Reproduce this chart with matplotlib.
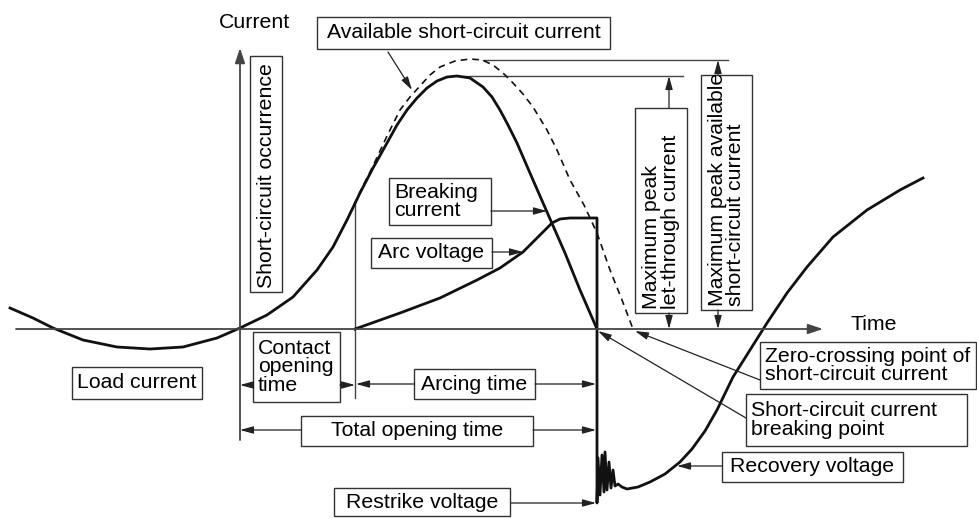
import matplotlib.pyplot as plt
from matplotlib.patches import Rectangle

plt.rcParams['font.family'] = ['Liberation Sans', 'DejaVu Sans']

# all values, in pixel units (x to the right, y downwards)

# load current that turns into the short-circuit current (solid)
current_x = [10, 33, 53, 83, 117, 150, 183, 217, 240, 267, 293, 317, 333, 347, 360,
             373, 387, 397, 407, 417, 427, 437, 447, 457, 470, 483, 492, 500, 508,
             517, 533, 547, 565, 580, 597]
current_y = [308, 318, 328, 340, 347, 349, 347, 338, 328, 315, 297, 270, 247, 220, 193,
             168, 143, 125, 110, 98, 88, 81, 77, 76, 78, 87, 97, 110, 125,
             143, 180, 212, 253, 290, 329]

# available short-circuit current (dashed)
avail_x = [333, 347, 360, 373, 387, 400, 410, 420, 430, 440, 455, 470, 482, 493, 503,
           513, 523, 533, 547, 557, 570, 584, 597, 610, 622, 633]
avail_y = [247, 220, 192, 166, 136, 110, 97, 86, 75, 67, 61, 59, 60, 65, 73,
           83, 94, 107, 130, 150, 180, 205, 233, 270, 300, 329]

# arc voltage, restrike and recovery voltage
volt_x = [355, 400, 440, 477, 500, 523, 540, 552, 560, 570, 597, 597,
          598, 600, 602, 604, 605, 607, 609, 611, 613, 615, 618, 622,
          627, 638, 650, 665, 680, 692, 705, 717, 733, 750, 767, 787, 807, 833,
          867, 900, 923]
volt_y = [329, 313, 298, 280, 268, 252, 235, 223, 219, 218, 218, 503,
          458, 495, 455, 492, 452, 490, 462, 488, 470, 486, 484, 487,
          489, 487, 482, 474, 462, 449, 431, 410, 377, 350, 323, 293, 267, 237,
          210, 190, 178]

# label texts and their boxes (x0, y0, x1, y1)
box_text = ["Available short-circuit current", "Breaking\ncurrent", "Arc voltage",
            "Contact\nopening\ntime", "Load current", "Arcing time", "Total opening time",
            "Restrike voltage", "Recovery voltage", "Zero-crossing point of\nshort-circuit current",
            "Short-circuit current\nbreaking point"]
box_ext = [(317, 17, 610, 49), (389, 178, 491, 225), (371, 238, 492, 268),
           (253, 332, 340, 402), (72, 367, 202, 399), (414, 369, 535, 399),
           (301, 416, 533, 446), (334, 488, 510, 516), (722, 452, 903, 482),
           (760, 342, 976, 389), (746, 394, 967, 446)]
box_align = ['center', 'left', 'center', 'left', 'center', 'center', 'center',
             'center', 'center', 'left', 'left']

# vertical (rotated) labels
vbox_text = ["Short-circuit occurrence", "Maximum peak\nlet-through current",
             "Maximum peak available\nshort-circuit current"]
vbox_ext = [(250, 56, 282, 292), (635, 108, 687, 313), (701, 75, 752, 310)]

# annotation arrows: (start, end), head at end
arrows = [((388, 52), (412, 90)), ((491, 211), (547, 211)), ((492, 252), (523, 252)),
          ((253, 385), (240, 385)), ((340, 385), (355, 385)),
          ((414, 384), (356, 384)), ((535, 384), (596, 384)),
          ((301, 430), (240, 430)), ((533, 430), (596, 430)),
          ((511, 503), (596, 503)), ((722, 466), (677, 466)),
          ((760, 380), (635, 331)), ((746, 418), (598, 331)),
          ((669, 108), (669, 76)), ((669, 313), (669, 329)),
          ((718, 75), (718, 60)), ((718, 310), (718, 329))]

# plain reference lines: peak levels and contact-opening instant
ref_lines = [((463, 76), (683, 76)), ((483, 60), (728, 60)), ((355, 202), (355, 398))]

fig = plt.figure(figsize=(9.77, 5.18), dpi=100)
ax = fig.add_axes([0, 0, 1, 1])
ax.set_xlim(0, 977)
ax.set_ylim(518, 0)
ax.axis('off')

axis_col = '#444444'
fs = 15.3

# axes with arrowheads
ax.annotate('', xy=(823, 329), xytext=(16, 329),
            arrowprops=dict(arrowstyle='-|>,head_length=0.9,head_width=0.3', lw=1.3,
                            color=axis_col, shrinkA=0, shrinkB=0))
ax.annotate('', xy=(240, 48), xytext=(240, 440),
            arrowprops=dict(arrowstyle='-|>,head_length=0.9,head_width=0.3', lw=1.3,
                            color=axis_col, shrinkA=0, shrinkB=0))
ax.text(255, 22, "Current", fontsize=fs, ha='center', va='center')
ax.text(874, 324, "Time", fontsize=fs, ha='center', va='center')

for (x0, y0), (x1, y1) in ref_lines:
    ax.plot([x0, x1], [y0, y1], color=axis_col, lw=1.0)

ax.plot(avail_x, avail_y, color='#111111', lw=1.2, ls=(0, (4, 3)))
ax.plot(current_x, current_y, color='#111111', lw=2.0, solid_joinstyle='round')
ax.plot(volt_x, volt_y, color='#111111', lw=2.0, solid_joinstyle='round')

for (sx, sy), (ex, ey) in arrows:
    ax.annotate('', xy=(ex, ey), xytext=(sx, sy),
                arrowprops=dict(arrowstyle='-|>,head_length=0.8,head_width=0.22', lw=0.9,
                                color='#222222', shrinkA=0, shrinkB=0))

for txt, (x0, y0, x1, y1), al in zip(box_text, box_ext, box_align):
    ax.add_patch(Rectangle((x0, y0), x1 - x0, y1 - y0, fill=True, fc='white',
                           ec='#333333', lw=1.0))
    yc = (y0 + y1) / 2
    if al == 'left':
        ax.text(x0 + 5, yc, txt, fontsize=fs, ha='left', va='center',
                linespacing=0.95)
    else:
        ax.text((x0 + x1) / 2, yc, txt, fontsize=fs, ha='center', va='center')

for txt, (x0, y0, x1, y1) in zip(vbox_text, vbox_ext):
    ax.add_patch(Rectangle((x0, y0), x1 - x0, y1 - y0, fill=True, fc='white',
                           ec='#333333', lw=1.0))
    ax.text((x0 + x1) / 2, y1 - 4, txt, fontsize=fs, rotation=90, ha='center',
            va='bottom', multialignment='left', linespacing=0.95)

fig.savefig('out.png', dpi=100)
